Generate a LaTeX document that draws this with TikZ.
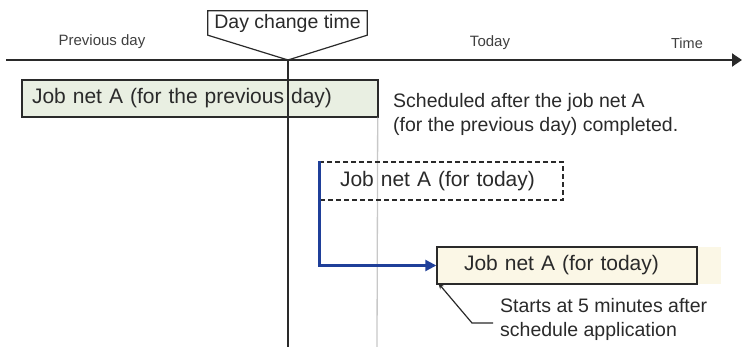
\documentclass[tikz,border=0pt]{standalone}
\usepackage{fontspec}
\setmainfont{Liberation Sans}
\usetikzlibrary{arrows.meta,backgrounds}
\definecolor{inkc}{HTML}{2A2A2A}
\definecolor{prevfill}{HTML}{E9EFE2}
\definecolor{todayfill}{HTML}{FBF7E6}
\definecolor{bluec}{HTML}{1F3F99}
\definecolor{greyline}{HTML}{C8C8C8}
\begin{document}
\begin{tikzpicture}[x=1pt,y=-1pt,
  jobbox/.style={draw=inkc, line width=1.4pt, minimum height=37pt, inner ysep=0pt, align=left, text=inkc, font=\fontsize{21}{24}\selectfont, anchor=center},
  axislabel/.style={text=inkc!90, font=\fontsize{15}{18}\selectfont, inner sep=0pt},
  note/.style={text=inkc, font=\fontsize{19.5}{24}\selectfont, align=left, inner sep=0pt}
]
\useasboundingbox (0,0) rectangle (742,347);

% time axis
\coordinate (tl0) at (6,60);
\coordinate (tl1) at (742,60);
\draw[line width=2pt, inkc, -{Triangle[length=10pt,width=13pt]}] (tl0) -- (tl1);
\node[axislabel] (prevday) at (102,42) {Previous day};
\node[axislabel] (today) at (490,43) {Today};
\node[axislabel, font=\fontsize{14.5}{17}\selectfont] (time) at (687,43) {Time};

% day change callout
\coordinate (daychg) at (288,60);
\coordinate (vbottom) at (288,347);
\node[minimum width=159pt, minimum height=24pt, inner sep=0pt, text=inkc, font=\fontsize{19.5}{22}\selectfont] (dct) at (287.5,23) {Day change time};
\begin{scope}[on background layer]
\draw[line width=1.2pt, inkc, fill=white] (dct.north west) -- (dct.north east) -- (dct.south east) -- (daychg) -- (dct.south west) -- cycle;
\end{scope}

% previous day job net
\node[jobbox, fill=prevfill, text width=336pt, inner xsep=10pt] (prevjob) at (200,98.5) {Job net A (for the previous day)};
\coordinate (gbottom) at (377,347);
\draw[greyline, line width=1.3pt] (prevjob.south east) ++(-1,0) coordinate (gtop) (gtop) -- (gbottom);

\node[note, anchor=north west] (sched) at (393,93) {Scheduled after the job net A\\(for the previous day) completed.};

% dashed job net for today
\node[jobbox, dashed, dash pattern=on 5pt off 3pt, minimum height=38pt, text width=223pt, inner xsep=10pt, align=left] (dashjob) at (441.5,181) {\hspace*{10pt}Job net A (for today)};

% today job net
\node[jobbox, fill=todayfill, minimum height=36pt, text width=206pt, inner xsep=27pt] (todayjob) at (567,265.5) {Job net A (for today)};
\fill[todayfill] ([xshift=0.7pt]todayjob.north east) rectangle ([xshift=23pt]todayjob.south east);
\draw[inkc, line width=1.4pt] (todayjob.north west) rectangle (todayjob.south east);

% blue connector
\draw[bluec, line width=2.4pt, -{Triangle[length=11pt,width=11pt]}] (dashjob.north west) |- (todayjob.west);

% day change vertical line (on top)
\draw[inkc, line width=1.5pt] (daychg) -- (vbottom);

% start note
\coordinate (c1) at (472,323);
\coordinate (c2) at (493,323);
\draw[inkc, line width=1.2pt, {Stealth[length=6pt,width=5pt]}-] ([xshift=2pt,yshift=1pt]todayjob.south west) -- (c1) -- (c2);
\node[note, anchor=west] (startnote) at (500,319) {Starts at 5 minutes after\\schedule application};
\end{tikzpicture}
\end{document}
